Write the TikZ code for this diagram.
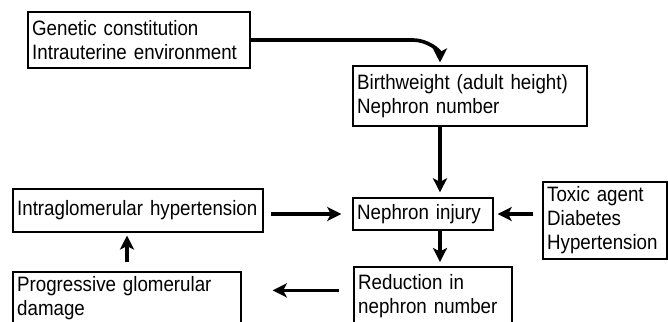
\documentclass[tikz,border=0pt]{standalone}
\usepackage{fontspec}
\setmainfont{Liberation Sans}[FakeStretch=0.9]
\usetikzlibrary{arrows.meta}

\tikzset{
  box/.style={draw, line width=1pt, align=left, inner xsep=3pt, inner ysep=0pt,
    font=\fontsize{14.8}{17}\selectfont},
  arr/.style={line width=2.6pt, -{Stealth[length=10pt,width=10pt,inset=2.5pt]}}
}

\begin{document}
\begin{tikzpicture}[x=0.025cm,y=-0.025cm]
  \useasboundingbox (0,0) rectangle (668,321);

  \node[box, text width=5.34cm, minimum height=1.4cm] (gen) at (139,40)
    {Genetic constitution\\Intrauterine environment};
  \node[box, text width=5.64cm, minimum height=1.5cm] (birth) at (470,96)
    {Birthweight (adult height)\\Nephron number};
  \node[box, text width=3.29cm, minimum height=0.8cm] (injury) at (423,214)
    {Nephron injury};
  \node[box, text width=2.89cm, minimum height=1.925cm] (toxic) at (605,220.5)
    {Toxic agent\\Diabetes\\Hypertension};
  \node[box, text width=6.04cm, minimum height=1.075cm] (intra) at (138,210.5)
    {Intraglomerular hypertension};
  \node[box, text width=5.49cm, minimum height=1.325cm] (prog) at (127,298.5)
    {Progressive glomerular\\damage};
  \node[box, text width=3.74cm, minimum height=1.45cm] (reduct) at (433,296)
    {Reduction in\\nephron number};

  \coordinate (trunk) at (440,0);
  \coordinate (bend) at (413,0);

  \draw[arr, shorten >=2pt] (gen.east) -- (gen.east -| bend)
    to[out=0,in=90] (trunk |- birth.north);
  \draw[arr, shorten >=3.5pt] (trunk |- birth.south) -- (trunk |- injury.north);
  \draw[arr, shorten >=3pt] (trunk |- injury.south) -- (trunk |- reduct.north);
  \draw[arr, shorten <=6.4pt, shorten >=2.8pt] (toxic.west |- injury) -- (injury.east);
  \draw[arr, shorten <=5pt, shorten >=7.8pt] (intra.east |- injury) -- (injury.west);
  \draw[arr, shorten <=10pt, shorten >=22pt] ([yshift=4pt]reduct.west)
    -- ([yshift=4pt]reduct.west -| prog.east);
  \draw[arr, shorten <=6.4pt, shorten >=2pt] (prog.north) -- (prog.north |- intra.south);
\end{tikzpicture}
\end{document}
